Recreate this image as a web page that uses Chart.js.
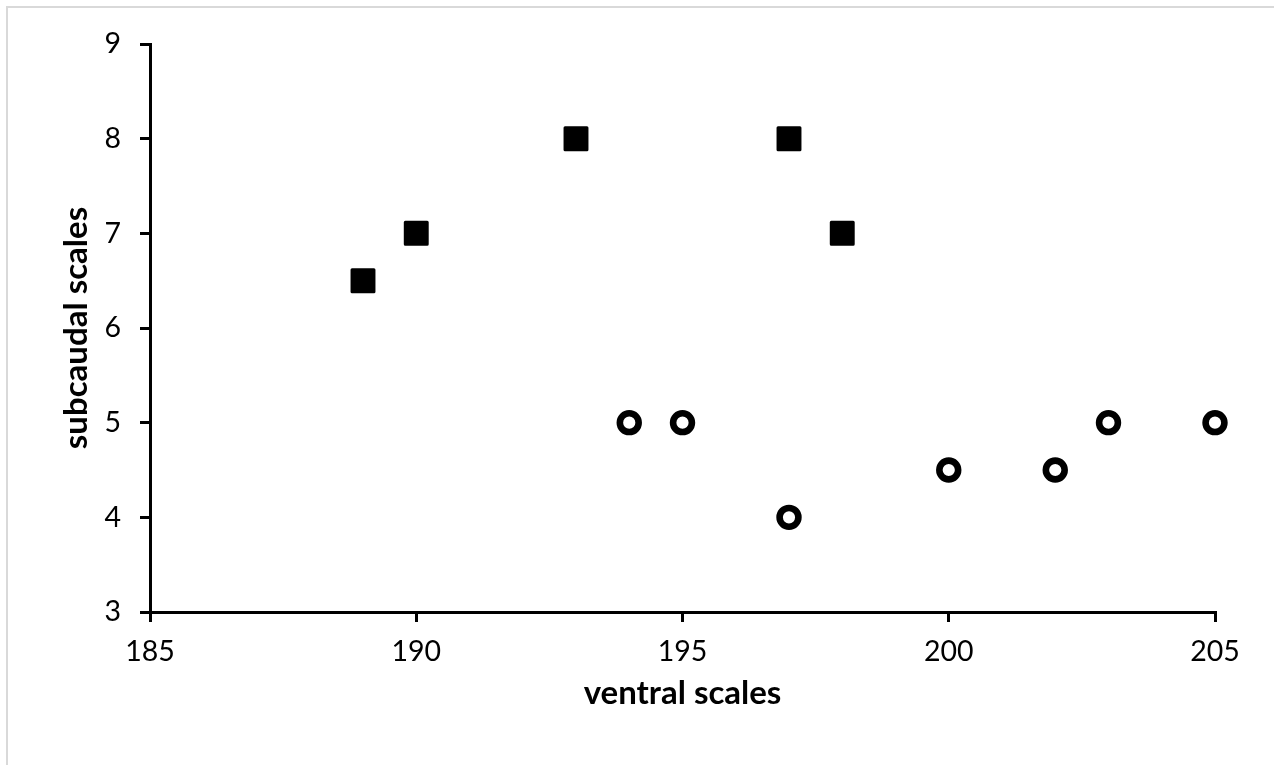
<!DOCTYPE html>
<html>
<head>
<meta charset="utf-8">
<script src="https://cdn.jsdelivr.net/npm/chart.js@4.4.1/dist/chart.umd.min.js"></script>
<style>
  body { margin: 0; background: #fff; overflow: hidden; }
  .wrap { position: relative; width: 1274px; height: 765px; }
  .frame { position: absolute; left: 6px; top: 6px; width: 1300px; height: 800px; border-top: 2px solid #d9d9d9; border-left: 2px solid #d9d9d9; }
  canvas { position: absolute; left: 0; top: 0; }
</style>
</head>
<body>
<div class="wrap">
  <div class="frame"></div>
  <canvas id="scaleChart" width="1274" height="765"></canvas>
</div>
<script>
// group 1 (filled squares)
const squareVentral = [189, 190, 193, 197, 198];
const squareSubcaudal = [6.5, 7, 8, 8, 7];
// group 2 (open circles)
const circleVentral = [194, 195, 197, 200, 202, 203, 205];
const circleSubcaudal = [5, 5, 4, 4.5, 4.5, 5, 5];

const xTitle = 'ventral scales';
const yTitle = 'subcaudal scales';

const toPoints = (xs, ys) => xs.map((x, i) => ({ x: x, y: ys[i] }));

const roundJoins = {
    id: 'roundJoins',
    beforeDatasetsDraw(chart) {
        chart.ctx.lineJoin = 'round';
    }
};

const tickFont = { family: 'Lato, "Open Sans", sans-serif', size: 28.5 };
const titleFont = { family: 'Lato, "Open Sans", sans-serif', size: 33, weight: 'bold' };

const ctx = document.getElementById('scaleChart').getContext('2d');
new Chart(ctx, {
    type: 'scatter',
    data: {
        datasets: [
            {
                label: 'squares',
                data: toPoints(squareVentral, squareSubcaudal),
                pointStyle: 'rect',
                pointRadius: 15.5,
                pointBorderWidth: 3,
                borderColor: '#000',
                backgroundColor: '#000',
                clip: false,
            },
            {
                label: 'circles',
                data: toPoints(circleVentral, circleSubcaudal),
                pointStyle: 'circle',
                pointRadius: 9.4,
                pointBorderWidth: 6.6,
                borderColor: '#000',
                backgroundColor: '#fff',
                clip: false,
            },
        ],
    },
    options: {
        responsive: false,
        animation: false,
        layout: { padding: { left: 0, top: 44, right: 59, bottom: 0 } },
        plugins: {
            legend: { display: false },
            tooltip: { enabled: false },
        },
        scales: {
            x: {
                type: 'linear',
                min: 185,
                max: 205,
                ticks: { stepSize: 5, color: '#000', font: tickFont, padding: 13, maxRotation: 0 },
                grid: { drawOnChartArea: false, drawTicks: true, tickLength: 10, color: '#000', lineWidth: 3 },
                border: { display: true, color: '#000', width: 3 },
                title: { display: true, text: xTitle, color: '#000', font: titleFont, padding: { top: 0, bottom: 52 } },
                afterFit: (scale) => { scale.height = 153; },
            },
            y: {
                type: 'linear',
                min: 3,
                max: 9,
                ticks: { stepSize: 1, color: '#000', font: tickFont, padding: 19 },
                grid: { drawOnChartArea: false, drawTicks: true, tickLength: 10, color: '#000', lineWidth: 3 },
                border: { display: true, color: '#000', width: 3 },
                title: { display: true, text: yTitle, color: '#000', font: titleFont, padding: { top: 57, bottom: 0 } },
                afterFit: (scale) => { scale.width = 150; },
            },
        },
    },
    plugins: [roundJoins],
});
</script>
</body>
</html>
